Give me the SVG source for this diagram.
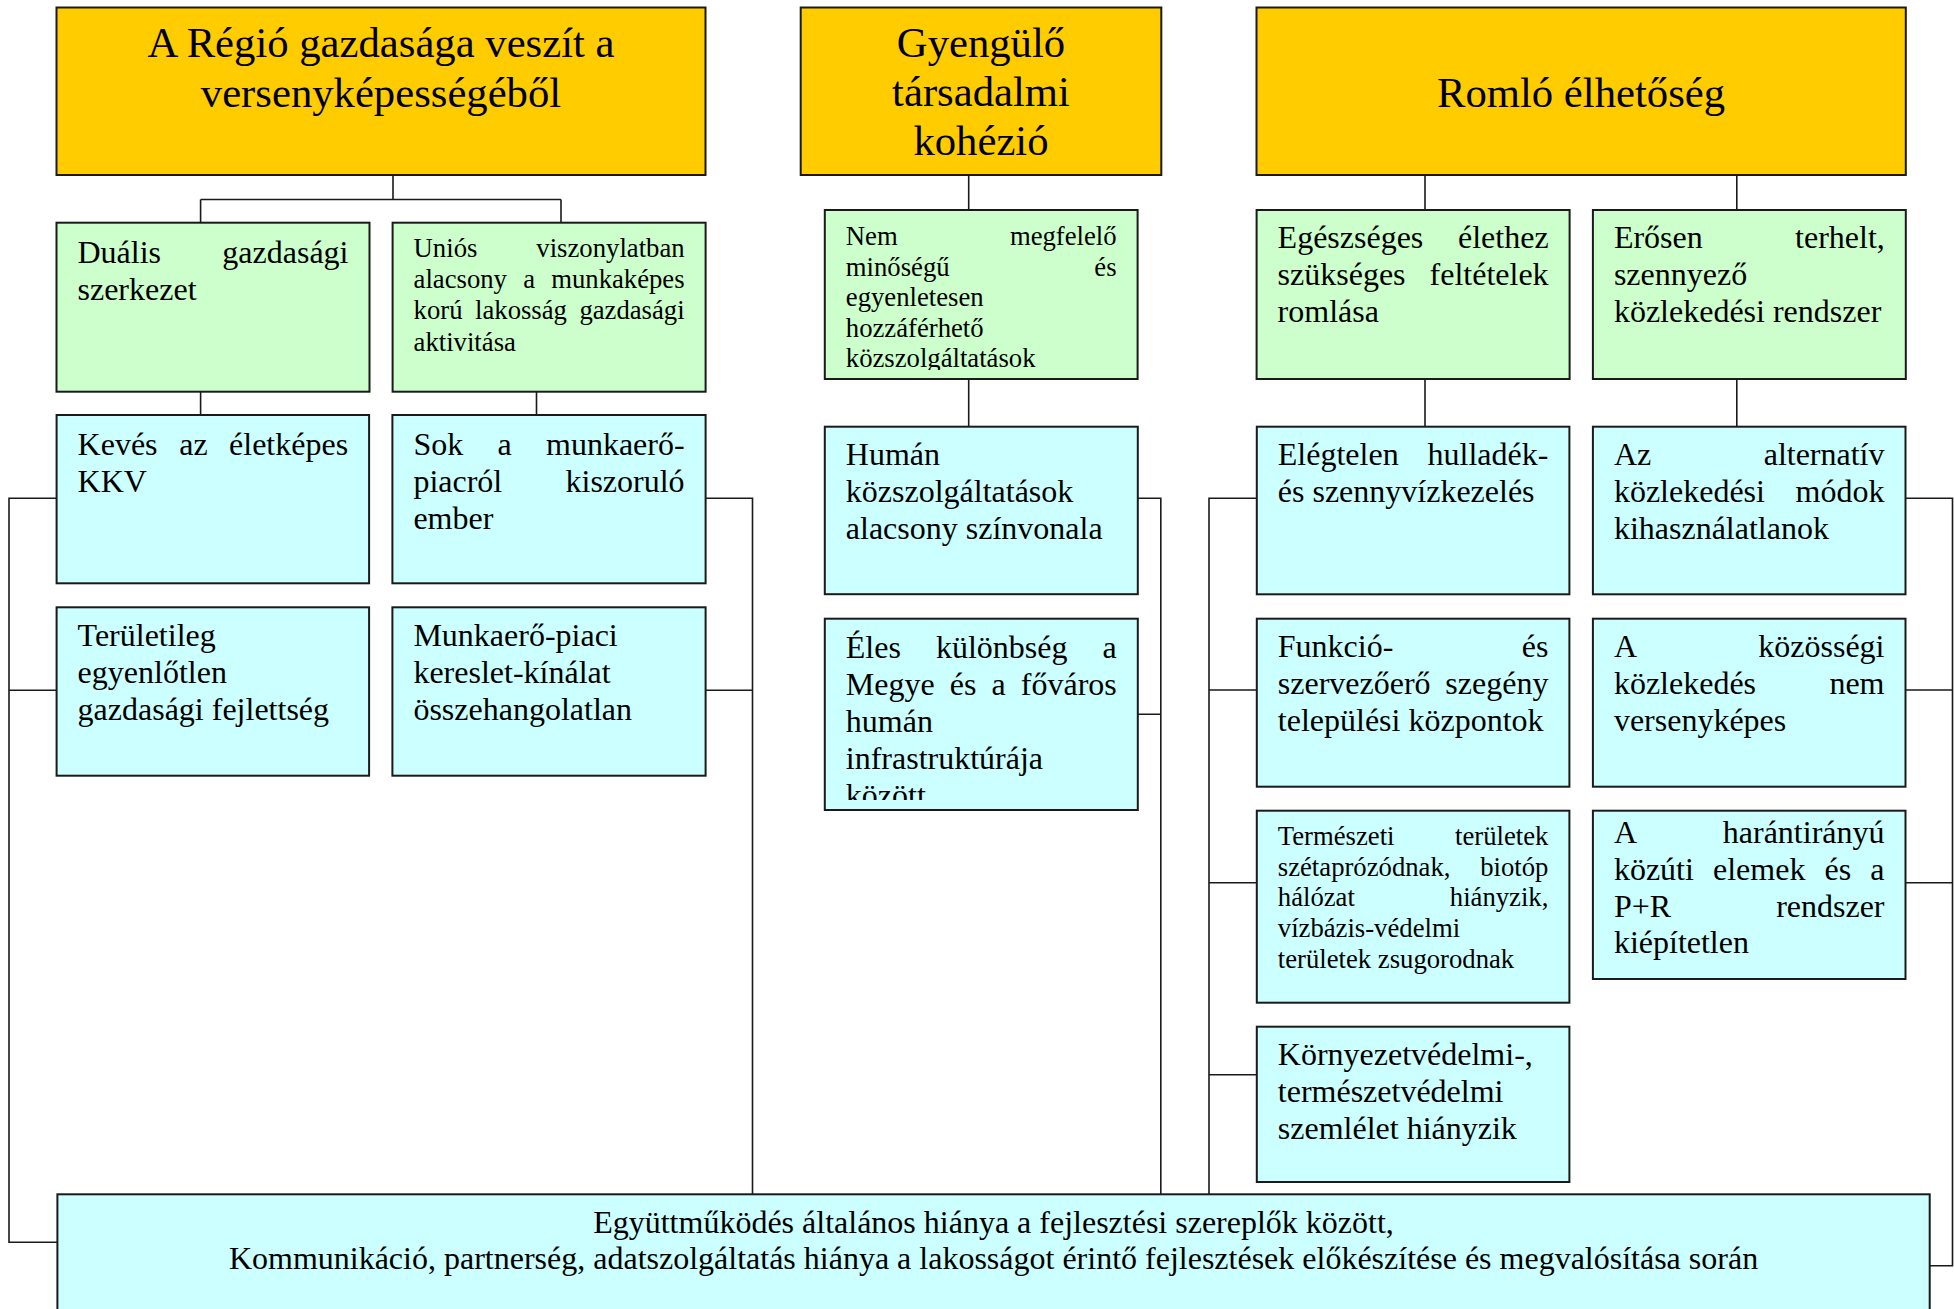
<svg xmlns="http://www.w3.org/2000/svg" width="1954" height="1309" viewBox="0 0 1954 1309">
<style>
  .box{stroke:#1a1a1a;stroke-width:2}
  .gold{fill:#FFCC00}
  .green{fill:#CCFFCC}
  .cyan{fill:#CCFFFF}
  text{font-family:"Liberation Serif","Times New Roman",serif;fill:#000}
  .t43{font-size:42.7px}
  .t32{font-size:32px}
  .t27{font-size:26.7px}
  .r{text-anchor:end}
  .m{text-anchor:middle}
  #connectors path{fill:none;stroke:#1a1a1a;stroke-width:1.6}
</style>
<defs>
  <clipPath id="clipNem"><rect x="824.8" y="210" width="312.8" height="160"/></clipPath>
  <clipPath id="clipEles"><rect x="824.8" y="618.7" width="313" height="181.3"/></clipPath>
</defs>
<rect x="0" y="0" width="1954" height="1309" fill="#fff"/>

<g id="connectors">
  <path d="M393,175 V199.5 M200.6,199.5 H561 M200.6,199.5 V222.7 M561,199.5 V222.7"/>
  <path d="M200.6,391.7 V415"/>
  <path d="M536.5,391.7 V415"/>
  <path d="M968.7,175 V210"/>
  <path d="M968.7,379 V426.7"/>
  <path d="M1425,175 V210"/>
  <path d="M1736.8,175 V210"/>
  <path d="M1425,379 V426.7"/>
  <path d="M1736.8,379 V426.7"/>
  <path d="M56.6,498.3 H9 V1242.3 H57.4 M9,690.3 H56.6"/>
  <path d="M705.6,498.3 H752.5 V1194.3 M705.6,690.3 H752.5"/>
  <path d="M1137.8,498.3 H1160.8 V1194.3 M1137.8,714.3 H1160.8"/>
  <path d="M1256.8,498.3 H1209 V1194.3 M1209,690 H1256.8 M1209,882.7 H1256.8 M1209,1074.7 H1256.8"/>
  <path d="M1905.5,498.3 H1952.5 V1265.7 H1929.7 M1905.5,690 H1952.5 M1905.5,882.7 H1952.5"/>
</g>

<g id="n-regio">
  <rect class="box gold" x="56.5" y="7.5" width="649" height="167.5"/>
  <text class="t43 m" x="381" y="57">A Régió gazdasága veszít a</text>
  <text class="t43 m" x="381" y="107">versenyképességéből</text>
</g>
<g id="n-kohezio">
  <rect class="box gold" x="800.7" y="7.5" width="360.6" height="167.5"/>
  <text class="t43 m" x="981" y="57">Gyengülő</text>
  <text class="t43 m" x="981" y="106">társadalmi</text>
  <text class="t43 m" x="981" y="155">kohézió</text>
</g>
<g id="n-elhetoseg">
  <rect class="box gold" x="1256.5" y="7.5" width="649.3" height="167.5"/>
  <text class="t43 m" x="1581" y="107">Romló élhetőség</text>
</g>

<g id="n-dualis">
  <rect class="box green" x="56.5" y="222.7" width="313" height="169"/>
  <text class="t32" x="77.5" y="263">Duális</text>
  <text class="t32 r" x="348.5" y="263">gazdasági</text>
  <text class="t32" x="77.5" y="300">szerkezet</text>
</g>
<g id="n-unios">
  <rect class="box green" x="392.6" y="222.7" width="313" height="169"/>
  <text class="t27" x="413.6" y="257">Uniós</text>
  <text class="t27 r" x="684.6" y="257">viszonylatban</text>
  <text class="t27" x="413.6" y="288">alacsony</text>
  <text class="t27 m" x="529.2" y="288">a</text>
  <text class="t27 r" x="684.6" y="288">munkaképes</text>
  <text class="t27" x="413.6" y="319">korú</text>
  <text class="t27 m" x="521" y="319">lakosság</text>
  <text class="t27 r" x="684.6" y="319">gazdasági</text>
  <text class="t27" x="413.6" y="351">aktivitása</text>
</g>
<g id="n-nem-megfelelo">
  <rect class="box green" x="824.8" y="210" width="312.8" height="169"/>
  <g clip-path="url(#clipNem)">
    <text class="t27" x="845.8" y="245">Nem</text>
    <text class="t27 r" x="1116.6" y="245">megfelelő</text>
    <text class="t27" x="845.8" y="276">minőségű</text>
    <text class="t27 r" x="1116.6" y="276">és</text>
    <text class="t27" x="845.8" y="306">egyenletesen</text>
    <text class="t27" x="845.8" y="336.5">hozzáférhető</text>
    <text class="t27" x="845.8" y="367">közszolgáltatások</text>
  </g>
</g>
<g id="n-egeszseges">
  <rect class="box green" x="1256.6" y="210" width="313" height="169"/>
  <text class="t32" x="1277.6" y="248">Egészséges</text>
  <text class="t32 r" x="1548.6" y="248">élethez</text>
  <text class="t32" x="1277.6" y="285">szükséges</text>
  <text class="t32 r" x="1548.6" y="285">feltételek</text>
  <text class="t32" x="1277.6" y="322">romlása</text>
</g>
<g id="n-erosen">
  <rect class="box green" x="1592.9" y="210" width="312.9" height="169"/>
  <text class="t32" x="1613.9" y="248">Erősen</text>
  <text class="t32 r" x="1884.8" y="248">terhelt,</text>
  <text class="t32" x="1613.9" y="285">szennyező</text>
  <text class="t32" x="1613.9" y="322">közlekedési rendszer</text>
</g>

<g id="n-keves">
  <rect class="box cyan" x="56.6" y="415" width="312.5" height="168.3"/>
  <text class="t32" x="77.6" y="455">Kevés</text>
  <text class="t32 m" x="193.4" y="455">az</text>
  <text class="t32 r" x="348.1" y="455">életképes</text>
  <text class="t32" x="77.6" y="492">KKV</text>
</g>
<g id="n-sok">
  <rect class="box cyan" x="392.4" y="415" width="313.2" height="168.3"/>
  <text class="t32" x="413.4" y="455">Sok</text>
  <text class="t32 m" x="504.6" y="455">a</text>
  <text class="t32 r" x="684.6" y="455">munkaerő-</text>
  <text class="t32" x="413.4" y="492">piacról</text>
  <text class="t32 r" x="684.6" y="492">kiszoruló</text>
  <text class="t32" x="413.4" y="529">ember</text>
</g>
<g id="n-teruletileg">
  <rect class="box cyan" x="56.6" y="607.3" width="312.5" height="168.4"/>
  <text class="t32" x="77.6" y="646">Területileg</text>
  <text class="t32" x="77.6" y="683">egyenlőtlen</text>
  <text class="t32" x="77.6" y="720">gazdasági fejlettség</text>
</g>
<g id="n-munkaero-piaci">
  <rect class="box cyan" x="392.4" y="607.3" width="313.2" height="168.4"/>
  <text class="t32" x="413.4" y="646">Munkaerő-piaci</text>
  <text class="t32" x="413.4" y="683">kereslet-kínálat</text>
  <text class="t32" x="413.4" y="720">összehangolatlan</text>
</g>
<g id="n-human">
  <rect class="box cyan" x="824.8" y="426.7" width="313" height="167.5"/>
  <text class="t32" x="845.8" y="465">Humán</text>
  <text class="t32" x="845.8" y="502">közszolgáltatások</text>
  <text class="t32" x="845.8" y="539">alacsony színvonala</text>
</g>
<g id="n-eles">
  <rect class="box cyan" x="824.8" y="618.7" width="313" height="191.3"/>
  <g clip-path="url(#clipEles)">
    <text class="t32" x="845.8" y="658">Éles</text>
    <text class="t32 m" x="1001.7" y="658">különbség</text>
    <text class="t32 r" x="1116.8" y="658">a</text>
    <text class="t32" x="845.8" y="695">Megye</text>
    <text class="t32 m" x="963.1" y="695">és</text>
    <text class="t32 m" x="998.7" y="695">a</text>
    <text class="t32 r" x="1116.8" y="695">főváros</text>
    <text class="t32" x="845.8" y="732">humán</text>
    <text class="t32" x="845.8" y="769">infrastruktúrája</text>
    <text class="t32" x="845.8" y="806">között</text>
  </g>
</g>
<g id="n-elegtelen">
  <rect class="box cyan" x="1256.8" y="426.7" width="312.6" height="167.6"/>
  <text class="t32" x="1277.8" y="465">Elégtelen</text>
  <text class="t32 r" x="1548.4" y="465">hulladék-</text>
  <text class="t32" x="1277.8" y="502">és szennyvízkezelés</text>
</g>
<g id="n-alternativ">
  <rect class="box cyan" x="1592.9" y="426.7" width="312.6" height="167.6"/>
  <text class="t32" x="1613.9" y="465">Az</text>
  <text class="t32 r" x="1884.5" y="465">alternatív</text>
  <text class="t32" x="1613.9" y="502">közlekedési</text>
  <text class="t32 r" x="1884.5" y="502">módok</text>
  <text class="t32" x="1613.9" y="539">kihasználatlanok</text>
</g>
<g id="n-funkcio">
  <rect class="box cyan" x="1256.8" y="618.7" width="312.6" height="168"/>
  <text class="t32" x="1277.8" y="657">Funkció-</text>
  <text class="t32 r" x="1548.4" y="657">és</text>
  <text class="t32" x="1277.8" y="694">szervezőerő</text>
  <text class="t32 r" x="1548.4" y="694">szegény</text>
  <text class="t32" x="1277.8" y="731">települési központok</text>
</g>
<g id="n-kozossegi">
  <rect class="box cyan" x="1592.9" y="618.7" width="312.6" height="168"/>
  <text class="t32" x="1613.9" y="657">A</text>
  <text class="t32 r" x="1884.5" y="657">közösségi</text>
  <text class="t32" x="1613.9" y="694">közlekedés</text>
  <text class="t32 r" x="1884.5" y="694">nem</text>
  <text class="t32" x="1613.9" y="731">versenyképes</text>
</g>
<g id="n-termeszeti">
  <rect class="box cyan" x="1256.8" y="810.7" width="312.6" height="192"/>
  <text class="t27" x="1277.8" y="845">Természeti</text>
  <text class="t27 r" x="1548.4" y="845">területek</text>
  <text class="t27" x="1277.8" y="875.5">szétaprózódnak,</text>
  <text class="t27 r" x="1548.4" y="875.5">biotóp</text>
  <text class="t27" x="1277.8" y="906">hálózat</text>
  <text class="t27 r" x="1548.4" y="906">hiányzik,</text>
  <text class="t27" x="1277.8" y="937">vízbázis-védelmi</text>
  <text class="t27" x="1277.8" y="968">területek zsugorodnak</text>
</g>
<g id="n-harantiranyu">
  <rect class="box cyan" x="1592.9" y="810.7" width="312.6" height="168.3"/>
  <text class="t32" x="1613.9" y="843">A</text>
  <text class="t32 r" x="1884.5" y="843">harántirányú</text>
  <text class="t32" x="1613.9" y="880">közúti</text>
  <text class="t32 m" x="1759.2" y="880">elemek</text>
  <text class="t32 m" x="1837.9" y="880">és</text>
  <text class="t32 r" x="1884.5" y="880">a</text>
  <text class="t32" x="1613.9" y="917">P+R</text>
  <text class="t32 r" x="1884.5" y="917">rendszer</text>
  <text class="t32" x="1613.9" y="953">kiépítetlen</text>
</g>
<g id="n-kornyezetvedelmi">
  <rect class="box cyan" x="1256.8" y="1026.7" width="312.6" height="155.3"/>
  <text class="t32" x="1277.8" y="1065">Környezetvédelmi-,</text>
  <text class="t32" x="1277.8" y="1102">természetvédelmi</text>
  <text class="t32" x="1277.8" y="1139">szemlélet hiányzik</text>
</g>
<g id="n-egyuttmukodes">
  <rect class="box cyan" x="57.4" y="1194.3" width="1872.3" height="140"/>
  <text class="t32 m" x="993.5" y="1233">Együttműködés általános hiánya a fejlesztési szereplők között,</text>
  <text class="t32 m" x="993.5" y="1269">Kommunikáció, partnerség, adatszolgáltatás hiánya a lakosságot érintő fejlesztések előkészítése és megvalósítása során</text>
</g>
</svg>
